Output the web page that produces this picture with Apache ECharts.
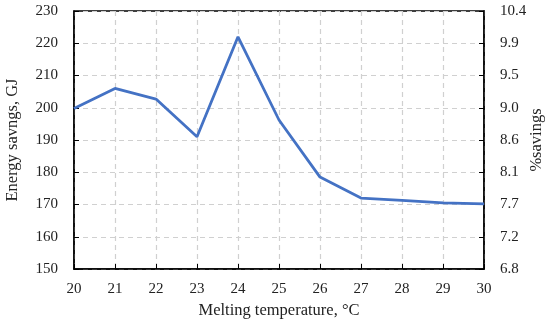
<!DOCTYPE html>
<html><head><meta charset="utf-8">
<script src="https://cdn.jsdelivr.net/npm/echarts@6/dist/echarts.min.js"></script>
<style>html,body{margin:0;padding:0;background:#fff}#c{width:550px;height:323px}</style>
</head><body><div id="c"></div>
<script>
const temps = [20,21,22,23,24,25,26,27,28,29,30];
const savings = [199.8,206.0,202.7,191.0,222.0,196.2,178.5,172.0,171.3,170.5,170.2];
const rightLabels = ['6.8','7.2','7.7','8.1','8.6','9.0','9.5','9.9','10.4'];
const FONT = 'Liberation Serif';
const chart = echarts.init(document.getElementById('c'));
const gridLine = {show:true, lineStyle:{color:'#d0d0d0', type:[5,4], width:1.2}};
chart.setOption({
  animation:false,
  grid:{left:74, right:66, top:11, bottom:54, containLabel:false, outerBoundsMode:'none',
    show:true, borderColor:'#000', borderWidth:1.5},
  xAxis:{type:'value', min:20, max:30, interval:1,
    name:'Melting temperature, °C', nameLocation:'middle', nameGap:30,
    nameTextStyle:{fontFamily:FONT, fontSize:16.5, color:'#222'},
    axisLine:{lineStyle:{color:'#000', width:1.5}},
    axisTick:{inside:true, length:5, lineStyle:{color:'#000'}},
    axisLabel:{fontFamily:FONT, fontSize:15, color:'#222', margin:13},
    splitLine:gridLine},
  yAxis:[
    {type:'value', min:150, max:230, interval:10,
     name:'Energy savngs, GJ', nameLocation:'middle', nameGap:53, nameRotate:90,
     nameTextStyle:{fontFamily:FONT, fontSize:16.5, color:'#222'},
     axisLine:{show:true, lineStyle:{color:'#000', width:1.5}},
     axisTick:{show:true, inside:true, length:5, lineStyle:{color:'#000'}},
     axisLabel:{fontFamily:FONT, fontSize:15, color:'#222', margin:16},
     splitLine:gridLine},
    {type:'value', min:150, max:230, interval:10, position:'right',
     name:'%savings', nameLocation:'middle', nameGap:44, nameRotate:90, nameMoveOverlap:false,
     nameTextStyle:{fontFamily:FONT, fontSize:16.5, color:'#222'},
     axisLine:{show:true, lineStyle:{color:'#000', width:1.5}},
     axisTick:{show:true, inside:true, length:5, lineStyle:{color:'#000'}},
     axisLabel:{fontFamily:FONT, fontSize:15, color:'#222', margin:16,
       formatter:v=>rightLabels[Math.round((v-150)/10)]},
     splitLine:{show:false}}
  ],
  series:[{type:'line', data:temps.map((t,i)=>[t,savings[i]]), showSymbol:false,
    lineStyle:{color:'#4472C4', width:2.8}, itemStyle:{color:'#4472C4'}}]
});
</script></body></html>
